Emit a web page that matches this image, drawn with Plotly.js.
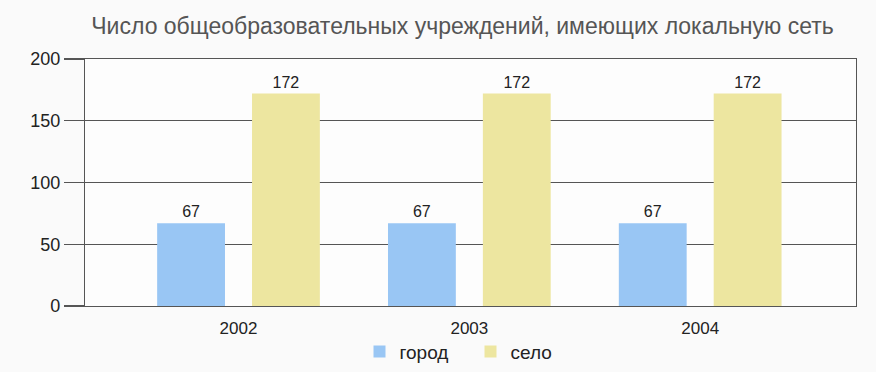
<!DOCTYPE html>
<html>
<head>
<meta charset="utf-8">
<script src="https://cdn.plot.ly/plotly-3.0.1.min.js"></script>
<style>html,body{margin:0;padding:0;background:#fafafa;}#chart{width:876px;height:372px;}</style>
</head>
<body>
<div id="chart"></div>
<script>
const years = ['2002', '2003', '2004'];
const gorod = [67, 67, 67];
const selo = [172, 172, 172];
const seriesNames = ['город', 'село'];
const titleText = 'Число общеобразовательных учреждений, имеющих локальную сеть';

const textFont = {family: 'Liberation Sans, Arial, sans-serif', size: 16, color: '#222'};

const traces = [
  {type: 'bar', name: seriesNames[0], x: years, y: gorod, marker: {color: '#99c6f4'},
   text: gorod.map(String), textposition: 'outside', textfont: textFont, cliponaxis: false, hoverinfo: 'none'},
  {type: 'bar', name: seriesNames[1], x: years, y: selo, marker: {color: '#ede6a0'},
   text: selo.map(String), textposition: 'outside', textfont: textFont, cliponaxis: false, hoverinfo: 'none'}
];

const layout = {
  width: 876, height: 372,
  paper_bgcolor: '#fafafa', plot_bgcolor: '#fdfdfd',
  margin: {l: 85, r: 20, t: 59, b: 66, autoexpand: false},
  title: {text: titleText, x: 0.528, xanchor: 'center', y: 0.93, yanchor: 'middle',
    font: {family: 'Liberation Sans Narrow, Arial Narrow, Liberation Sans, sans-serif', size: 23, color: '#555'}},
  barmode: 'group', bargap: 0.178, bargroupgap: 0.285,
  xaxis: {type: 'category', range: [-0.665, 2.675], showgrid: false, ticks: '',
    showline: true, linecolor: '#555', linewidth: 1.2, mirror: true, automargin: false,
    tickfont: {family: 'Liberation Sans, Arial, sans-serif', size: 17, color: '#222'}, ticklabelstandoff: 6},
  yaxis: {range: [0, 200], tickvals: [0, 50, 100, 150, 200], showgrid: true, gridcolor: '#555', gridwidth: 1.2,
    ticks: 'outside', ticklen: 20, tickcolor: '#555', tickwidth: 1.2, automargin: false,
    showline: true, linecolor: '#555', linewidth: 1.2, mirror: true, zeroline: false,
    tickfont: {family: 'Liberation Sans, Arial, sans-serif', size: 18, color: '#222'}, ticklabelstandoff: 0},
  legend: {orientation: 'h', x: 0.5, xanchor: 'center', yref: 'container', y: 0.055, yanchor: 'middle',
    bgcolor: 'rgba(0,0,0,0)', entrywidth: 66, entrywidthmode: 'pixels',
    font: {family: 'Liberation Sans, Arial, sans-serif', size: 19, color: '#222'}, itemwidth: 30, traceorder: 'normal'},
  showlegend: true
};

Plotly.newPlot('chart', traces, layout, {displayModeBar: false, staticPlot: true});
</script>
</body>
</html>
